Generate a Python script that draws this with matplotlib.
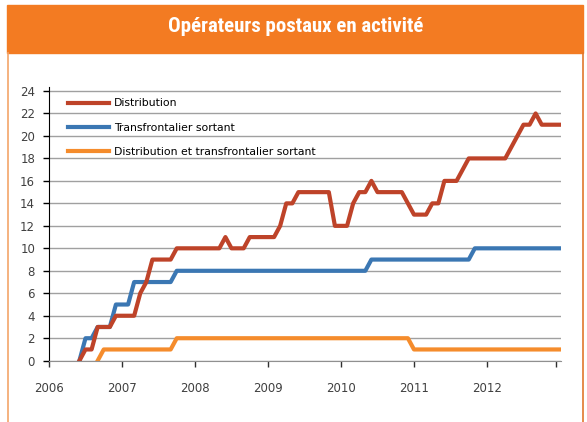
import matplotlib.pyplot as plt
from matplotlib import font_manager as fm
from matplotlib.patches import Rectangle
from matplotlib.lines import Line2D
import numpy as np
import pandas as pd

# monthly observations, June 2006 -> January 2013
months = pd.date_range('2006-06-01', '2013-01-01', freq='MS')

distribution = [0, 1, 1, 3, 3, 3, 4, 4, 4, 4,
                6, 7, 9, 9, 9, 9, 10, 10, 10, 10,
                10, 10, 10, 10, 11, 10, 10, 10, 11, 11,
                11, 11, 11, 12, 14, 14, 15, 15, 15, 15,
                15, 15, 12, 12, 12, 14, 15, 15, 16, 15,
                15, 15, 15, 15, 14, 13, 13, 13, 14, 14,
                16, 16, 16, 17, 18, 18, 18, 18, 18, 18,
                18, 19, 20, 21, 21, 22, 21, 21, 21, 21]

transfrontalier = [0, 2, 2, 3, 3, 3, 5, 5, 5, 7,
                   7, 7, 7, 7, 7, 7, 8, 8, 8, 8,
                   8, 8, 8, 8, 8, 8, 8, 8, 8, 8,
                   8, 8, 8, 8, 8, 8, 8, 8, 8, 8,
                   8, 8, 8, 8, 8, 8, 8, 8, 9, 9,
                   9, 9, 9, 9, 9, 9, 9, 9, 9, 9,
                   9, 9, 9, 9, 9, 10, 10, 10, 10, 10,
                   10, 10, 10, 10, 10, 10, 10, 10, 10, 10]

dist_et_transf = [np.nan, np.nan, np.nan, 0, 1, 1, 1, 1, 1, 1,
                  1, 1, 1, 1, 1, 1, 2, 2, 2, 2,
                  2, 2, 2, 2, 2, 2, 2, 2, 2, 2,
                  2, 2, 2, 2, 2, 2, 2, 2, 2, 2,
                  2, 2, 2, 2, 2, 2, 2, 2, 2, 2,
                  2, 2, 2, 2, 2, 1, 1, 1, 1, 1,
                  1, 1, 1, 1, 1, 1, 1, 1, 1, 1,
                  1, 1, 1, 1, 1, 1, 1, 1, 1, 1]

labels = ['Distribution', 'Transfrontalier sortant',
          'Distribution et transfrontalier sortant']
colors = ['#BE4329', '#3B77B3', '#F58C2C']
years = [2006, 2007, 2008, 2009, 2010, 2011, 2012]

x = months.year + (months.month - 1) / 12

# narrow face for the header if one is around
installed = {f.name for f in fm.fontManager.ttflist}
title_font = None
for name in ['Liberation Sans Narrow', 'Roboto Condensed', 'Noto Sans Condensed',
             'Open Sans Condensed', 'DejaVu Sans Condensed']:
    if name in installed:
        title_font = name
        break

W, H = 587, 422
fig = plt.figure(figsize=(W / 100, H / 100), dpi=100)
fig.patch.set_facecolor('white')

# orange header band and side borders
fig.add_artist(Rectangle((7 / W, 1 - 53 / H), 576 / W, 48 / H,
                         transform=fig.transFigure, color='#F37B22', zorder=0))
fig.add_artist(Line2D([7.5 / W, 7.5 / W], [0, 1 - 53 / H], transform=fig.transFigure,
                      color='#F4A56A', lw=1.2))
fig.add_artist(Line2D([583 / W, 583 / W], [0, 1 - 53 / H], transform=fig.transFigure,
                      color='#E0782E', lw=1.2))
if title_font:
    fig.text(296 / W, 1 - 26 / H, 'Opérateurs postaux en activité', color='white',
             ha='center', va='center', fontsize=15, fontweight='bold',
             family=[title_font, 'DejaVu Sans'])
else:
    fig.text(296 / W, 1 - 26 / H, 'Opérateurs postaux en activité', color='white',
             ha='center', va='center', fontsize=13.5, fontweight='medium',
             family=['Roboto', 'DejaVu Sans'])

ax = fig.add_axes([49 / W, (H - 360.7) / H, 512 / W, (360.7 - 86.5) / H])

series = [distribution, transfrontalier, dist_et_transf]
zs = [4, 3, 2]
for vals, lab, c, z in zip(series, labels, colors, zs):
    ax.plot(x, vals, color=c, lw=3, label=lab, zorder=z)

ax.set_xlim(2006, 2013.014)
ax.set_ylim(0, 24.4)
ax.set_yticks(range(0, 25, 2))
ax.set_xticks(years)
ax.set_xticks([2012.94], minor=True)
ax.tick_params(axis='x', which='both', direction='out', length=4, width=1,
               color='#303030', pad=11, labelsize=8.5, labelcolor='#404040')
ax.tick_params(axis='y', direction='out', length=4, width=1, color='black',
               pad=6, labelsize=8.5, labelcolor='#404040')
ax.grid(axis='y', color='#A0A0A0', lw=1)
ax.set_axisbelow(True)
for s in ['top', 'right']:
    ax.spines[s].set_visible(False)
ax.spines['left'].set_color('black')
ax.spines['bottom'].set_color('#909090')

h, l = ax.get_legend_handles_labels()
ax.legend(h, l, loc='upper left', bbox_to_anchor=((68 - 49) / 512, (360.7 - 98.5) / 274.2),
          frameon=False, borderaxespad=0, borderpad=0, fontsize=7.8,
          handlelength=3.8, handletextpad=0.45, labelspacing=1.3)

fig.savefig('out.png', dpi=100)
